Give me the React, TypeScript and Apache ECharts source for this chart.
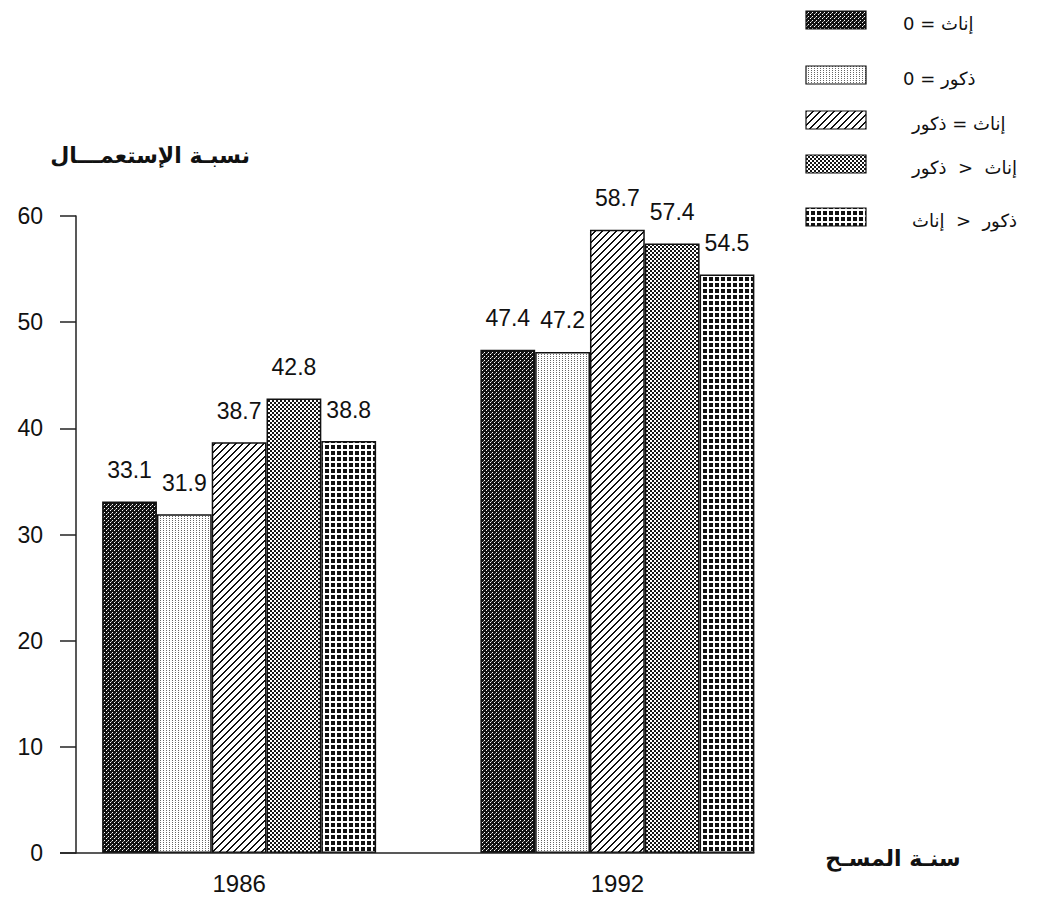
import React, { useEffect, useRef } from 'react';
import * as echarts from 'echarts';

// ---- data ----
const years = ['1986', '1992'];
const seriesNames = [
  '0 = إناث',
  '0 = ذكور',
  'ذكور \u200E=\u200E إناث',
  'ذكور  \u200E>\u200E  إناث',
  'إناث  \u200E>\u200E  ذكور',
];
const femalesZero = [33.1, 47.4];
const malesZero = [31.9, 47.2];
const equalCount = [38.7, 58.7];
const malesMore = [42.8, 57.4];
const femalesMore = [38.8, 54.5];
const seriesValues = [femalesZero, malesZero, equalCount, malesMore, femalesMore];
const yMin = 0;
const yMax = 60;
const yStep = 10;
const yTitle = 'نسبـة الإستعمـــال';
const xTitle = 'سنـة المسـح';

// ---- layout (positions only) ----
const legendRowsY = [20, 75, 120, 164, 217];
const legendTextX = [903, 903, 912, 912, 912];
const legendPatchX = 806;
const legendPatchW = 60;
const legendPatchH = 18;

const NUM_FONT = '"Liberation Sans", Arial, "DejaVu Sans", sans-serif';
const AR_FONT = '"DejaVu Sans", "Liberation Sans", sans-serif';

function makePattern(w: number, h: number, draw: (ctx: CanvasRenderingContext2D) => void) {
  const c = document.createElement('canvas');
  c.width = w;
  c.height = h;
  const ctx = c.getContext('2d') as CanvasRenderingContext2D;
  draw(ctx);
  return { image: c, repeat: 'repeat', imageWidth: w, imageHeight: h } as any;
}

function buildPatterns() {
  const p1 = makePattern(4, 4, (ctx) => {
    ctx.fillStyle = '#111';
    ctx.fillRect(0, 0, 4, 4);
    ctx.fillStyle = '#fff';
    ctx.fillRect(0, 0, 1, 1);
    ctx.fillRect(2, 2, 1, 1);
    ctx.fillStyle = '#999';
    ctx.fillRect(3, 1, 1, 1);
  });
  const p2 = makePattern(3, 4, (ctx) => {
    ctx.fillStyle = '#fff';
    ctx.fillRect(0, 0, 3, 4);
    ctx.fillStyle = '#666';
    ctx.fillRect(1, 0, 1, 1);
    ctx.fillRect(1, 2, 1, 1);
  });
  const p3 = makePattern(7, 7, (ctx) => {
    ctx.fillStyle = '#fff';
    ctx.fillRect(0, 0, 7, 7);
    ctx.fillStyle = '#111';
    for (let i = 0; i < 7; i++) {
      ctx.fillRect(i, 6 - i, 1, 1);
      ctx.fillRect((i + 1) % 7, 6 - i, 1, 1);
    }
  });
  const p4 = makePattern(4, 4, (ctx) => {
    ctx.fillStyle = '#fff';
    ctx.fillRect(0, 0, 4, 4);
    ctx.fillStyle = '#151515';
    ctx.fillRect(0, 0, 2, 2);
    ctx.fillRect(2, 2, 2, 2);
  });
  const p5 = makePattern(6, 6, (ctx) => {
    ctx.fillStyle = '#fff';
    ctx.fillRect(0, 0, 6, 6);
    ctx.fillStyle = '#111';
    ctx.fillRect(1, 1, 4, 4);
  });
  return [p1, p2, p3, p4, p5];
}

export default function App() {
  const ref = useRef<HTMLDivElement>(null);

  useEffect(() => {
    if (!ref.current) return;
    const chart = echarts.init(ref.current, null, { renderer: 'svg' });
    const patterns = buildPatterns();
    const barWidth = 54.8;

    const series = seriesValues.map((vals, i) => ({
      name: seriesNames[i],
      type: 'bar',
      data: vals,
      barWidth,
      barGap: '0%',
      itemStyle: { color: patterns[i], borderColor: '#111', borderWidth: 1.5 },
      label: {
        show: true,
        position: 'top',
        distance: 20,
        fontSize: 23,
        fontFamily: NUM_FONT,
        color: '#111',
        formatter: (p: any) => Number(p.value).toFixed(1),
      },
    }));

    const legendGraphics: any[] = [];
    seriesNames.forEach((name, i) => {
      legendGraphics.push({
        type: 'rect',
        shape: { x: legendPatchX, y: legendRowsY[i] - legendPatchH / 2, width: legendPatchW, height: legendPatchH },
        style: { fill: patterns[i], stroke: '#111', lineWidth: 1.2 },
        silent: true,
      });
      legendGraphics.push({
        type: 'text',
        x: legendTextX[i],
        y: legendRowsY[i] + 3,
        style: {
          text: name,
          fontSize: 18,
          fontFamily: AR_FONT,
          fill: '#111',
          verticalAlign: 'middle',
          textAlign: 'left',
        },
        silent: true,
      });
    });

    chart.setOption({
      animation: false,
      backgroundColor: '#ffffff',
      grid: { left: 50, right: 237.5, top: 216, bottom: 52, containLabel: false },
      xAxis: {
        type: 'category',
        data: years,
        axisLine: { show: false },
        axisTick: { show: false },
        axisLabel: { fontSize: 24, fontFamily: NUM_FONT, color: '#111', margin: 18 },
        splitLine: { show: false },
      },
      yAxis: {
        type: 'value',
        min: yMin,
        max: yMax,
        interval: yStep,
        offset: -26,
        axisLine: { show: true, lineStyle: { color: '#222', width: 1.5 } },
        axisTick: { show: true, length: 16, lineStyle: { color: '#222', width: 1.5 } },
        axisLabel: { fontSize: 23, fontFamily: NUM_FONT, color: '#111', margin: 33 },
        splitLine: { show: false },
      },
      series,
      graphic: [
        {
          type: 'text',
          x: 150,
          y: 155,
          style: {
            text: yTitle,
            fontSize: 22,
            fontWeight: 'bold',
            fontFamily: AR_FONT,
            fill: '#111',
            textAlign: 'center',
            verticalAlign: 'middle',
          },
        },
        {
          type: 'text',
          x: 893,
          y: 858,
          style: {
            text: xTitle,
            fontSize: 22,
            fontWeight: 'bold',
            fontFamily: AR_FONT,
            fill: '#111',
            textAlign: 'center',
            verticalAlign: 'middle',
          },
        },
        ...legendGraphics,
      ],
    });

    // x-axis baseline: from tick end to right edge of last bar
    const y0 = chart.convertToPixel({ yAxisIndex: 0 }, yMin) as number;
    const lastCenter = chart.convertToPixel({ xAxisIndex: 0 }, years[years.length - 1]) as number;
    const xRight = lastCenter + (barWidth * seriesValues.length) / 2;
    chart.setOption({
      graphic: [
        {
          id: 'baseline',
          type: 'line',
          shape: { x1: 60, y1: y0, x2: xRight, y2: y0 },
          style: { stroke: '#222', lineWidth: 1.5 },
          z: 10,
        },
      ],
    });

    return () => chart.dispose();
  }, []);

  return (
    <div
      ref={ref}
      style={{ position: 'fixed', left: 0, top: 0, width: 1044, height: 905, background: '#fff' }}
    />
  );
}
